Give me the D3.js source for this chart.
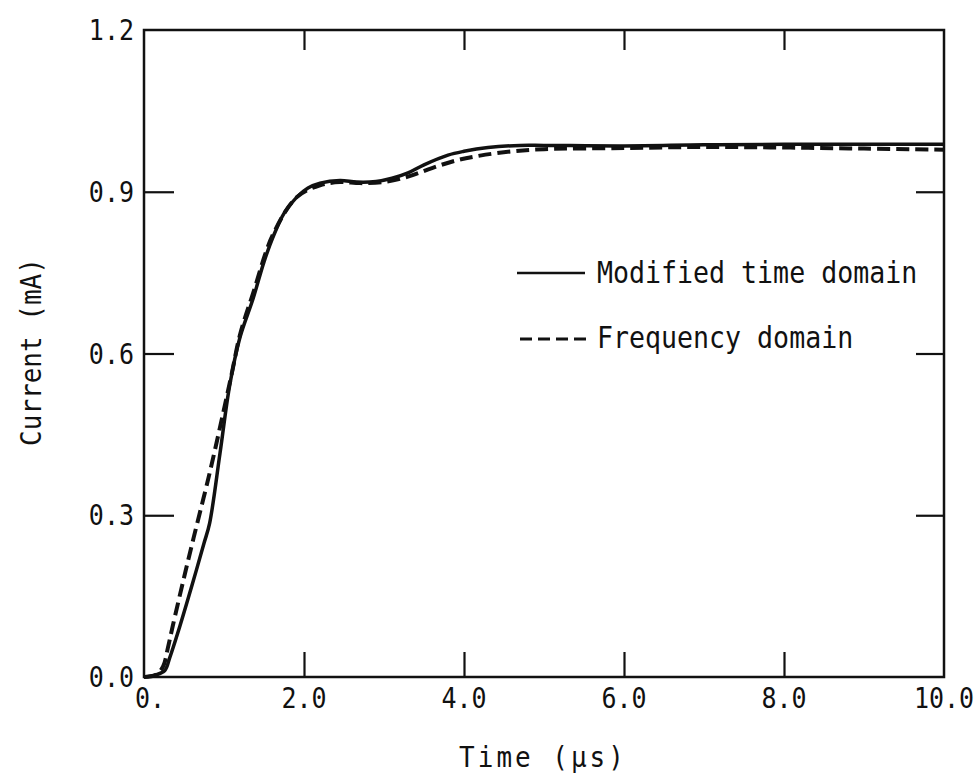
<!DOCTYPE html>
<html>
<head>
<meta charset="utf-8">
<script src="https://cdn.jsdelivr.net/npm/d3@7"></script>
<style>
  html, body { margin: 0; padding: 0; background: #fff; }
  svg text { font-family: "DejaVu Sans Mono", "Liberation Mono", monospace; fill: #111; }
</style>
</head>
<body>
<svg id="chart" width="976" height="778"></svg>
<script>
// ---- data ----
const xTicks = [0, 2, 4, 6, 8, 10];
const xTickLabels = ["0.", "2.0", "4.0", "6.0", "8.0", "10.0"];
const yTicks = [0, 0.3, 0.6, 0.9, 1.2];
const yTickLabels = ["0.0", "0.3", "0.6", "0.9", "1.2"];

const timeModified = [0, 0.15, 0.26, 0.32, 0.45, 0.6, 0.75, 0.82, 0.95, 1.07, 1.2, 1.36, 1.5, 1.61, 1.75, 1.91, 2.05, 2.2, 2.45, 2.66, 2.9, 3.1, 3.3, 3.5, 3.8, 4.0, 4.3, 4.7, 5.0, 6.0, 7.0, 8.0, 9.0, 10.0];
const currentModified = [0, 0.004, 0.012, 0.035, 0.095, 0.17, 0.248, 0.285, 0.415, 0.54, 0.63, 0.70, 0.77, 0.815, 0.86, 0.89, 0.907, 0.916, 0.921, 0.918, 0.919, 0.925, 0.935, 0.95, 0.968, 0.975, 0.982, 0.986, 0.986, 0.985, 0.987, 0.988, 0.988, 0.988];

const timeFrequency = [0, 0.15, 0.24, 0.3, 0.36, 0.49, 0.62, 0.82, 0.99, 1.1, 1.2, 1.36, 1.61, 1.91, 2.2, 2.45, 2.7, 3.0, 3.3, 3.6, 3.9, 4.2, 4.6, 5.0, 6.0, 7.0, 8.0, 9.0, 10.0];
const currentFrequency = [0, 0.004, 0.02, 0.055, 0.095, 0.178, 0.258, 0.378, 0.49, 0.565, 0.635, 0.71, 0.82, 0.89, 0.912, 0.918, 0.916, 0.918, 0.928, 0.944, 0.958, 0.967, 0.975, 0.979, 0.981, 0.983, 0.982, 0.980, 0.978];

const legendLabels = ["Modified time domain", "Frequency domain"];

// ---- layout ----
const svg = d3.select("#chart");
const mLeft = 144, mRight = 944, mTop = 30, mBottom = 677;
const x = d3.scaleLinear().domain([0, 10]).range([mLeft, mRight]);
const y = d3.scaleLinear().domain([0, 1.2]).range([mBottom, mTop]);

const tickFont = 25, titleFont = 26, legendFont = 26.6;
const vStretch = 1.12; // typewriter glyphs are taller than DejaVu Mono
const place = (px, py, rot) => `translate(${px},${py})` + (rot ? ` rotate(${rot})` : "") + ` scale(1,${vStretch})`;
const placeRot = (px, py) => `translate(${px},${py}) rotate(-90) scale(1,${vStretch})`;

// frame
svg.append("rect")
  .attr("x", mLeft).attr("y", mTop)
  .attr("width", mRight - mLeft).attr("height", mBottom - mTop)
  .attr("fill", "none").attr("stroke", "#111").attr("stroke-width", 2.5);

// inner ticks
const innerX = [2, 4, 6, 8];
const innerY = [0.3, 0.6, 0.9];
const bottomAxis = d3.axisBottom(x).tickValues(innerX).tickSize(-25).tickFormat("");
const topAxis = d3.axisTop(x).tickValues(innerX).tickSize(-20).tickFormat("");
const leftAxis = d3.axisLeft(y).tickValues(innerY).tickSize(-30).tickFormat("");
const rightAxis = d3.axisRight(y).tickValues(innerY).tickSize(-28).tickFormat("");
[[bottomAxis, `translate(0,${mBottom})`], [topAxis, `translate(0,${mTop})`],
 [leftAxis, `translate(${mLeft},0)`], [rightAxis, `translate(${mRight},0)`]].forEach(([ax, tr]) => {
  const g = svg.append("g").attr("transform", tr).call(ax);
  g.select(".domain").remove();
  g.selectAll(".tick line").attr("stroke", "#111").attr("stroke-width", 2.2);
});

// tick labels
svg.append("g").selectAll("text").data(xTicks).join("text")
  .attr("transform", (d, i) => place(x(d) + (i === 0 ? 6 : 0), 708))
  .attr("text-anchor", "middle")
  .attr("font-size", tickFont)
  .text((d, i) => xTickLabels[i]);

svg.append("g").selectAll("text").data(yTicks).join("text")
  .attr("transform", d => place(134, y(d) + 10))
  .attr("text-anchor", "end")
  .attr("font-size", tickFont)
  .text((d, i) => yTickLabels[i]);

// axis titles
svg.append("text")
  .attr("transform", place(543, 767))
  .attr("text-anchor", "middle").attr("font-size", titleFont)
  .attr("letter-spacing", 3)
  .text("Time (µs)");
svg.append("text")
  .attr("transform", placeRot(41, 352))
  .attr("text-anchor", "middle").attr("font-size", titleFont)
  .text("Current (mA)");

// curves
const line = d3.line().x(d => x(d[0])).y(d => y(d[1])).curve(d3.curveCatmullRom.alpha(0.5));
const modData = timeModified.map((t, i) => [t, currentModified[i]]);
const freqData = timeFrequency.map((t, i) => [t, currentFrequency[i]]);

svg.append("path").datum(freqData)
  .attr("d", line).attr("fill", "none").attr("stroke", "#111")
  .attr("stroke-width", 4).attr("stroke-dasharray", "13,6");
svg.append("path").datum(modData)
  .attr("d", line).attr("fill", "none").attr("stroke", "#111")
  .attr("stroke-width", 3.5);

// legend
const lg = svg.append("g");
lg.append("line").attr("x1", 517).attr("x2", 585).attr("y1", 273).attr("y2", 273)
  .attr("stroke", "#111").attr("stroke-width", 2.5);
lg.append("line").attr("x1", 520).attr("x2", 586).attr("y1", 339).attr("y2", 339)
  .attr("stroke", "#111").attr("stroke-width", 3).attr("stroke-dasharray", "12,6");
lg.append("text").attr("transform", place(597, 283)).attr("font-size", legendFont).text(legendLabels[0]);
lg.append("text").attr("transform", place(597, 348)).attr("font-size", legendFont).text(legendLabels[1]);
</script>
</body>
</html>
